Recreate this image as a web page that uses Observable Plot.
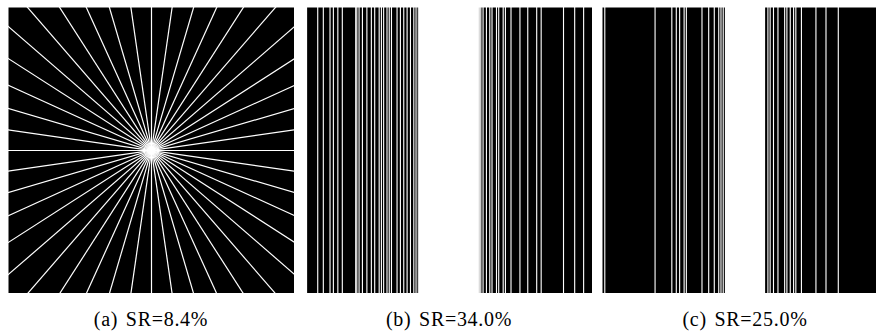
<!DOCTYPE html>
<html>
<head>
<meta charset="utf-8">
<script src="https://cdn.jsdelivr.net/npm/d3@7"></script>
<script src="https://cdn.jsdelivr.net/npm/@observablehq/plot@0.6"></script>
<style>
  html, body { margin: 0; padding: 0; background: #fff; overflow: hidden; width: 876px; height: 331px; }
  #wrap { position: relative; width: 876px; height: 331px; overflow: hidden; }
  .panel { position: absolute; top: 7px; width: 286px; }
  .panel svg { display: block; }
  .cap { position: absolute; top: 308px; width: 286px; text-align: center;
         font-family: "Liberation Serif", serif; font-size: 20px; line-height: 22px; color: #000;
         letter-spacing: 0.7px; word-spacing: 2px; white-space: nowrap; }
</style>
</head>
<body>
<div id="wrap"></div>
<script>
// Panel (a): radial sampling lines, angles in degrees
const radialAngles = [0, 8.2, 16.4, 24.5, 32.7, 40.9, 49.1, 57.3, 65.5, 73.6, 81.8,
                      90, 98.2, 106.4, 114.5, 122.7, 130.9, 139.1, 147.3, 155.5, 163.6, 171.8];
// Panel (b): sampled columns (of 256) plus fully-sampled centre band
const maskBLines = [0, 10, 15, 21, 24, 28, 32, 44, 45, 47, 50, 54, 58, 61, 65, 67, 69, 72, 74, 76,
                    81, 84, 87, 90, 93, 96, 98, 100,
                    154, 155, 156, 158, 161, 164, 166, 170, 172, 176, 178, 183, 191, 198, 206, 210, 230, 240, 248];
const maskBCenter = [101, 154];
// Panel (c)
const maskCLines = [2, 47, 62, 66, 69, 73, 75, 89, 95, 100, 104, 106, 108, 110,
                    145, 148, 150, 153, 157, 163, 165, 168, 171, 173, 178, 191, 200, 211];
const maskCCenter = [111, 145];
const captions = ["(a) SR=8.4%", "(b) SR=34.0%", "(c) SR=25.0%"];
const panelLeft = [8, 306, 602];

const N = 256;
const SIZE = 286;
const wrap = document.getElementById("wrap");

function place(svg, i) {
  const div = document.createElement("div");
  div.className = "panel";
  div.style.left = panelLeft[i] + "px";
  div.appendChild(svg);
  wrap.appendChild(div);
  const cap = document.createElement("div");
  cap.className = "cap";
  cap.style.left = panelLeft[i] + "px";
  cap.textContent = captions[i];
  wrap.appendChild(cap);
}

// (a)
const L = 400;
const spokes = radialAngles.map(a => {
  const r = a * Math.PI / 180;
  return {x1: -L * Math.cos(r), y1: -L * Math.sin(r), x2: L * Math.cos(r), y2: L * Math.sin(r)};
});
const plotA = Plot.plot({
  width: SIZE, height: SIZE,
  margin: 0,
  x: {domain: [-N / 2, N / 2], axis: null},
  y: {domain: [-N / 2, N / 2], axis: null},
  marks: [
    Plot.frame({fill: "black", stroke: null}),
    Plot.link(spokes, {x1: "x1", y1: "y1", x2: "x2", y2: "y2", stroke: "white", strokeWidth: 1.2, clip: true})
  ]
});
place(plotA, 0);

function columnMask(lines, center) {
  return Plot.plot({
    width: SIZE, height: SIZE,
    margin: 0,
    x: {domain: [0, N], axis: null},
    marks: [
      Plot.frame({fill: "black", stroke: null}),
      Plot.rect([center], {x1: d => d[0], x2: d => d[1], fill: "white"}),
      Plot.rect(lines, {x1: d => d, x2: d => d + 1, fill: "white"})
    ]
  });
}
place(columnMask(maskBLines, maskBCenter), 1);
place(columnMask(maskCLines, maskCCenter), 2);
</script>
</body>
</html>
